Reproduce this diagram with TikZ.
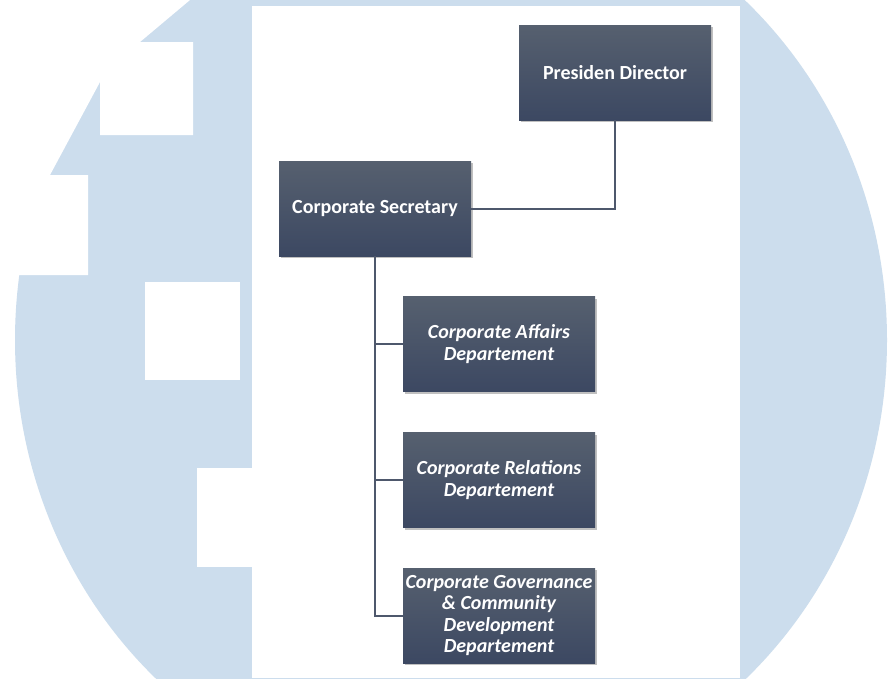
\documentclass[tikz,border=0pt]{standalone}
\usepackage{fontspec}
\newfontfamily\carlito{Carlito}
\usetikzlibrary{shadows}
\definecolor{wmblue}{HTML}{CCDDED}
\definecolor{boxtop}{HTML}{56606F}
\definecolor{boxbot}{HTML}{3C4862}
\definecolor{linec}{HTML}{4E586C}
\tikzset{
  orgbox/.style={rectangle, minimum width=192pt, minimum height=95pt, inner sep=0pt,
    top color=boxtop, bottom color=boxbot, text=white, align=center,
    font=\carlito\bfseries\fontsize{20}{22}\selectfont,
    drop shadow={shadow xshift=1.5pt, shadow yshift=-2pt, opacity=0.35, fill=black!70}},
  deptbox/.style={orgbox, font=\carlito\bfseries\itshape\fontsize{20}{21.5}\selectfont},
  conn/.style={draw=linec, line width=2pt}
}
\begin{document}
\begin{tikzpicture}[x=1pt,y=-1pt]
\useasboundingbox (0,0) rectangle (888,678);
\fill[white] (0,0) rectangle (888,678);
% watermark
\fill[wmblue] (451,340) ellipse [x radius=436pt, y radius=460pt];
\fill[white] (0,0) -- (190,0) -- (140,42) -- (193,42) -- (193,135) -- (100,135) -- (100,82)
  -- (50,175) -- (88,175) -- (88,275) -- (0,275) -- cycle;
\fill[white] (145,282) rectangle (240,380);
\fill[white] (197,468) rectangle (253,567);
% panel
\fill[white] (252,6) rectangle (740,678);
% nodes
\node[orgbox] (pd) at (615,72.5) {Presiden Director};
\node[orgbox] (cs) at (375,208.5) {Corporate Secretary};
\node[deptbox] (ca) at (499,344) {Corporate Affairs\\Departement};
\node[deptbox] (cr) at (499,480) {Corporate Relations\\Departement};
\node[deptbox] (cg) at (499,615.5) {Corporate Governance\\\& Community\\Development\\Departement};
% connectors
\draw[conn] (cs.east) -| (pd.south);
\draw[conn] (cs.south) |- (ca.west);
\draw[conn] (cs.south) |- (cr.west);
\draw[conn] (cs.south) |- (cg.west);
\end{tikzpicture}
\end{document}
